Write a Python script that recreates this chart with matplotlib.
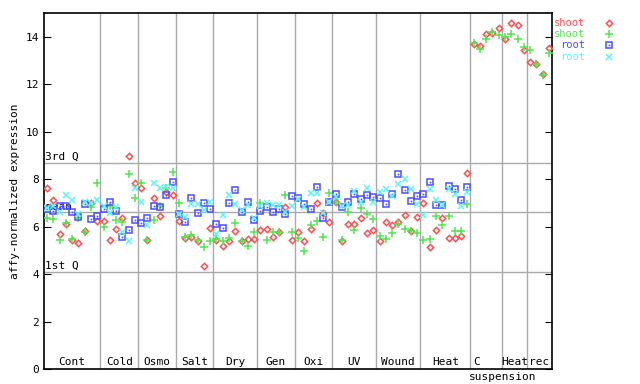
import numpy as np
import matplotlib
matplotlib.use('Agg')
import matplotlib.pyplot as plt
from matplotlib.lines import Line2D

nan = np.nan

# groups of samples along the x axis
groups = ['Cont', 'Cold', 'Osmo', 'Salt', 'Dry', 'Gen', 'Oxi', 'UV',
          'Wound', 'Heat', 'C', 'Heat', 'rec']
groupSizes = [9, 6, 6, 6, 7, 6, 6, 7, 7, 8, 5, 4, 4]

shootRed = [7.61, 7.12, 5.68, 6.10, 5.44, 5.30, 5.82, 7.01, 6.24,
            6.24, 5.44, 5.90, 6.35, 8.98, 7.82,
            7.61, 5.44, 7.19, 6.45, 7.47, 7.33,
            6.24, 5.51, 5.58, 5.41, 4.35, 5.95,
            5.44, 5.20, 5.41, 5.82, 5.38, 5.47, 5.47,
            5.85, 5.90, 5.58, 5.76, 6.81, 5.44,
            5.76, 5.39, 5.89, 7.01, 6.56, 6.21,
            7.02, 5.41, 6.10, 6.10, 6.35, 5.74, 5.86,
            5.39, 6.21, 6.07, 6.21, 6.49, 5.82, 6.39,
            7.01, 5.15, 5.86, 6.35, 5.51, 5.51, 5.60, 8.25,
            13.68, 13.61, 14.12, 14.17, 14.36,
            13.91, 14.59, 14.50, 13.43,
            12.92, 12.87, 12.43, 13.51]

shootGreen = [6.35, 6.32, 5.44, 6.14, 5.48, 6.36, 5.76, 6.84, 7.82,
              6.00, 6.88, 6.28, 6.21, 8.22, 7.22,
              7.82, 5.44, 6.28, 6.88, 7.61, 8.29,
              7.01, 5.55, 5.65, 5.44, 5.13, 5.41,
              5.47, 5.41, 5.51, 6.14, 5.41, 5.17, 5.76,
              7.01, 5.44, 5.76, 5.76, 7.33, 5.76,
              5.51, 4.97, 6.07, 6.25, 5.55, 7.43,
              7.02, 5.44, 6.62, 5.86, 6.77, 6.52, 6.31,
              5.59, 5.47, 5.72, 6.10, 5.90, 5.82, 5.72,
              5.44, 5.47, 6.45, 6.07, 6.45, 5.82, 5.82, 6.95,
              13.72, 13.48, 13.91, 14.19, 14.08,
              13.98, 14.12, 13.90, 13.55,
              13.44, 12.87, 12.37, 13.30]

rootBlue = [6.74, 6.66, 6.88, 6.88, 6.60, 6.42, 6.95, 6.31, 6.45,
            6.74, 7.05, 6.66, 5.58, 5.86, 6.28,
            6.17, 6.35, 6.88, 6.81, 7.33, 7.89,
            6.52, 6.18, 7.19, 6.56, 6.98, 6.73,
            6.10, 5.93, 6.98, 7.53, 6.63, 7.04, 6.28,
            6.66, 6.84, 6.62, 6.76, 6.53, 7.29,
            7.19, 6.95, 6.73, 7.66, 6.35, 7.02,
            7.37, 6.84, 7.02, 7.37, 7.15, 7.33, 7.26,
            7.19, 6.94, 7.36, 8.20, 7.54, 7.08, 7.29,
            7.37, 7.87, 6.91, 6.91, 7.71, 7.57, 7.12, 7.68] + [nan] * 13

rootCyan = [6.80, 6.88, 6.60, 7.33, 7.12, 6.53, 7.02, 7.00, 7.12,
            6.88, 6.56, 6.84, 5.79, 5.41, 7.61,
            7.05, 6.07, 7.82, 7.64, 7.68, 7.64,
            6.52, 6.42, 6.94, 6.94, 6.70, 7.02,
            5.68, 6.49, 7.33, 6.95, 6.70, 6.90, 6.35,
            6.87, 6.98, 6.90, 6.90, 6.60, 6.87,
            7.15, 6.84, 7.43, 7.43, 6.56, 7.02,
            7.26, 6.85, 6.91, 7.51, 7.05, 7.61, 7.05,
            7.44, 7.57, 7.30, 7.78, 8.01, 7.57, 6.94,
            6.49, 7.57, 7.12, 6.90, 7.57, 7.36, 6.87, 7.47] + [nan] * 13

thirdQ = 8.68
meanVal = 6.60
firstQ = 4.07

red = '#ff4d4d'
green = '#4de84d'
blue = '#4d4dff'
cyan = '#5cf5f5'
gridc = '#aaaaaa'
mono = 'DejaVu Sans Mono'

n = sum(groupSizes)
x = np.arange(n) + 0.5

fig = plt.figure(figsize=(6.4, 3.84), dpi=100)
ax = fig.add_axes([44/640, 15/384, 508/640, 356/384])

#group separators
bounds = np.cumsum(groupSizes)
for b in bounds[:-1]:
    ax.axvline(b, color=gridc, lw=1, zorder=1)

#quartile / mean lines
for v in (thirdQ, meanVal, firstQ):
    ax.axhline(v, color=gridc, lw=1, zorder=1)
ax.text(0.2, thirdQ + 0.05, '3rd Q', family=mono, fontsize=8, va='bottom')
ax.text(0.2, meanVal, 'mean', family=mono, fontsize=8, va='bottom')
ax.text(0.2, firstQ + 0.05, '1st Q', family=mono, fontsize=8, va='bottom')

ax.plot(x, shootRed, ls='none', marker='D', ms=3.2, mfc='none', mec=red, mew=1.1, zorder=3)
ax.plot(x, shootGreen, ls='none', marker='+', ms=6, mec=green, mew=1.1, zorder=3)
ax.plot(x, rootBlue, ls='none', marker='s', ms=4.5, mfc='none', mec=blue, mew=1.1, zorder=3)
ax.plot(x, rootBlue, ls='none', marker='s', ms=1.2, mfc=blue, mec=blue, mew=0, zorder=3)
ax.plot(x, rootCyan, ls='none', marker='x', ms=4.5, mec=cyan, mew=1.1, zorder=3)

#group labels
starts = np.concatenate([[0], bounds[:-1]])
for g, s, size in zip(groups, starts, groupSizes):
    cx = s + size / 2
    if g == 'C':
        cx = s + 1.0
    ax.text(cx, 0.28, g, family=mono, fontsize=8, ha='center', va='center')
ax.text(73.1, -0.35, 'suspension', family=mono, fontsize=8, ha='center',
        va='center', clip_on=False)

ax.set_xlim(0, n)
ax.set_ylim(0, 15)
ax.set_xticks([])
ax.set_yticks(range(0, 15, 2))
ax.tick_params(axis='y', direction='in', length=5, right=True, labelsize=8)
for lab in ax.get_yticklabels():
    lab.set_family(mono)
ax.set_ylabel('affy-normalized expression', family=mono, fontsize=8, labelpad=4)
for sp in ax.spines.values():
    sp.set_linewidth(1.2)

#legend outside on the right
legend = [('shoot', red, 'D', 3.2), ('shoot', green, '+', 6),
          ('root', blue, 's', 4.5), ('root', cyan, 'x', 4.5)]
for k, (name, col, mk, ms) in enumerate(legend):
    yy = 1 - (23 + 11.2 * k) / 384
    fig.text(585/640, yy, name, color=col, family=mono, fontsize=7.5,
             ha='right', va='center')
    fc = 'none' if mk in ('D', 's') else col
    fig.add_artist(Line2D([609/640], [yy], marker=mk, ms=ms, mfc=fc, mec=col,
                          mew=1.1, ls='none', transform=fig.transFigure))
    if mk == 's':
        fig.add_artist(Line2D([609/640], [yy], marker='s', ms=1.2, mfc=col,
                              mew=0, ls='none', transform=fig.transFigure))

fig.savefig('out.png', dpi=100)
